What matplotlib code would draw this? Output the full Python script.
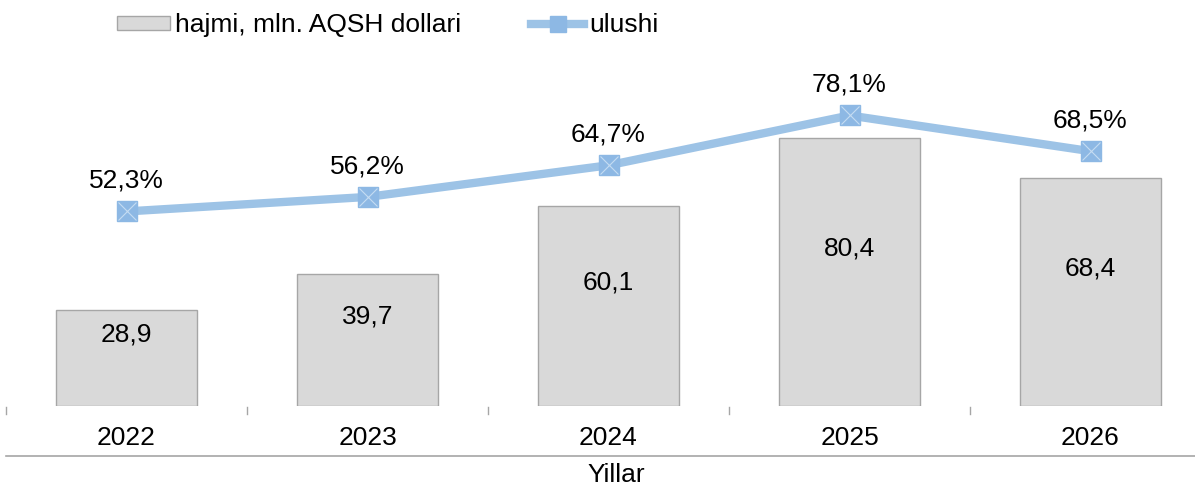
import matplotlib.pyplot as plt
from matplotlib.lines import Line2D
from matplotlib.patches import Patch

plt.rcParams['font.family'] = ['Liberation Sans', 'DejaVu Sans']

years = ['2022', '2023', '2024', '2025', '2026']
hajmi = [28.9, 39.7, 60.1, 80.4, 68.4]
ulushi = [52.3, 56.2, 64.7, 78.1, 68.5]

bar_color = '#D9D9D9'
bar_edge = '#A6A6A6'
line_color = '#9DC3E6'
marker_color = '#8DB8E4'
fs = 19

W, H = 1195, 486
fig = plt.figure(figsize=(W / 100, H / 100), dpi=100)
# axes in pixel coords: x from 6 to 1211 (clipped by figure), y from 50 to 406
left, right, top, bottom = 6, 1211, 50, 406
ax = fig.add_axes([left / W, 1 - bottom / H, (right - left) / W, (bottom - top) / H])
ax2 = ax.twinx()

x = list(range(len(years)))
ax.bar(x, hajmi, width=0.585, color=bar_color, edgecolor=bar_edge, linewidth=1.0, zorder=1)
ax.set_xlim(-0.5, len(years) - 0.5)
ax.set_ylim(0, (bottom - top) / 3.33)

for xi, v in zip(x, hajmi):
    ax.annotate('{:.1f}'.format(v).replace('.', ','), (xi, v / 2), xytext=(0, 17),
                textcoords='offset points', ha='center', va='center', fontsize=fs)

ax2.plot(x, ulushi, color=line_color, linewidth=6, solid_capstyle='butt', zorder=3)
ax2.plot(x, ulushi, linestyle='none', marker='s', markersize=14,
         markerfacecolor=marker_color, markeredgecolor=marker_color, zorder=4)
ax2.plot(x, ulushi, linestyle='none', marker='x', markersize=13, markeredgewidth=0.8,
         markeredgecolor='#C5DCF2', zorder=5)
ax2.set_ylim(0, (bottom - top) / 3.72)
for xi, v in zip(x, ulushi):
    ax2.annotate('{:.1f}%'.format(v).replace('.', ','), (xi, v), xytext=(0, 22),
                 textcoords='offset points', ha='center', va='center', fontsize=fs)

for a in (ax, ax2):
    for s in a.spines.values():
        s.set_visible(False)
    a.set_yticks([])
ax.set_xticks([])

# category boundary ticks, year labels and lower axis line
for i in range(len(years) + 1):
    ax.plot([i - 0.5, i - 0.5], [-0.3, -2.5], color='#A6A6A6', linewidth=1,
            clip_on=False, transform=ax.transData)
for xi, yr in zip(x, years):
    ax.text(xi, -9.6, yr, ha='center', va='center', fontsize=fs)
ax.plot([-0.5, len(years) - 0.5], [-15.1, -15.1], color='#A6A6A6', linewidth=1.2, clip_on=False)
fig.text(616 / W, 1 - 475 / H, 'Yillar', ha='center', va='center', fontsize=fs)

handles = [
    Patch(facecolor=bar_color, edgecolor=bar_edge, linewidth=1.0),
    Line2D([], [], color=line_color, linewidth=6, marker='s', markersize=12,
           markerfacecolor=marker_color, markeredgecolor=marker_color),
]
fig.legend(handles, ['hajmi, mln. AQSH dollari', 'ulushi'], loc='center left',
           bbox_to_anchor=(104 / W, 1 - 25 / H), ncol=2, frameon=False, fontsize=fs,
           handlelength=2.0, handletextpad=0.2, columnspacing=2.65, borderpad=0,
           handleheight=0.45)

fig.savefig('out.png', dpi=100)
